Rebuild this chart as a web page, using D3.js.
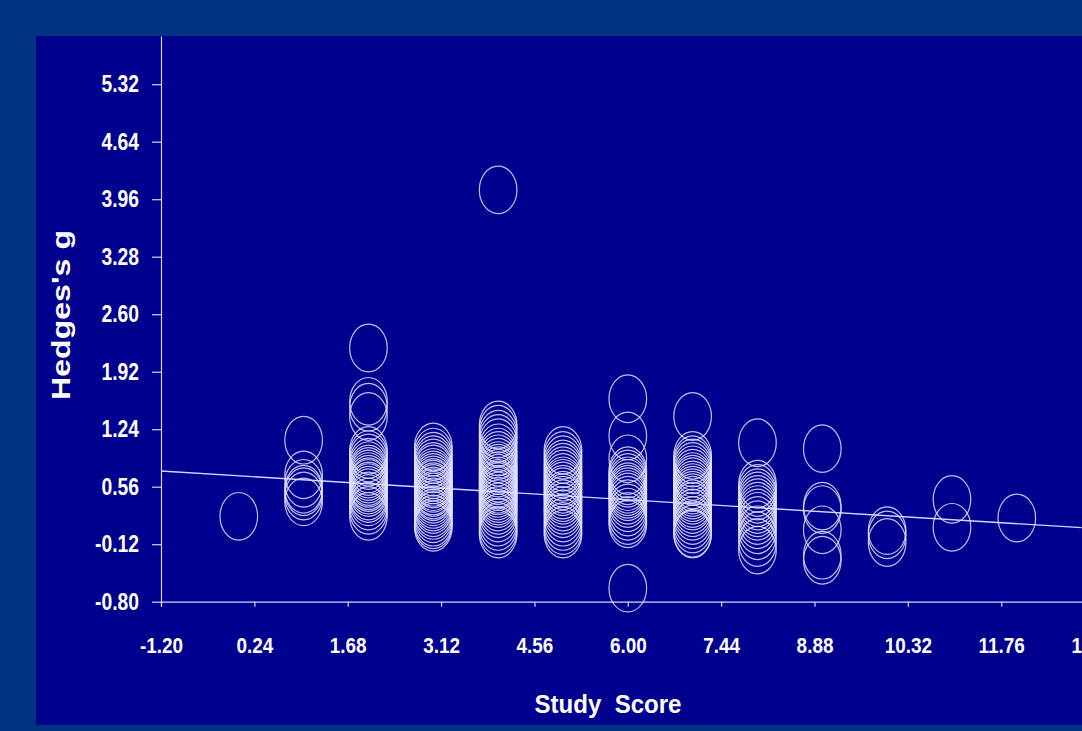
<!DOCTYPE html>
<html>
    <head>
        <meta charset="utf-8">
        <script src="https://cdn.jsdelivr.net/npm/d3@7"></script>
        <style>
            body { margin: 0; background: #003380; overflow: hidden; }
            text { font-family: "Liberation Sans", Arial, sans-serif; font-weight: bold; fill: white; }
        </style>
        <script>
            // study score on x, one list of Hedges's g per score
            var studyScores = [0, 1, 2, 3, 4, 5, 6, 7, 8, 9, 10, 11, 12];
            var hedgesG = [
                [0.21],
                [1.11, 0.70, 0.60, 0.53, 0.50, 0.45, 0.38],
                [2.20, 1.57, 1.50, 1.39, 0.99, 0.94, 0.90, 0.85, 0.81, 0.77, 0.74, 0.71, 0.68, 0.65, 0.62, 0.60, 0.57, 0.55, 0.52, 0.49, 0.45, 0.42, 0.38, 0.33, 0.28, 0.21],
                [1.03, 0.97, 0.92, 0.88, 0.84, 0.80, 0.77, 0.73, 0.70, 0.67, 0.64, 0.61, 0.59, 0.56, 0.54, 0.51, 0.49, 0.46, 0.44, 0.41, 0.38, 0.35, 0.32, 0.29, 0.25, 0.22, 0.18, 0.14, 0.11, 0.08],
                [4.07, 1.29, 1.24, 1.18, 1.13, 1.08, 1.02, 0.97, 0.93, 0.89, 0.85, 0.81, 0.78, 0.75, 0.72, 0.69, 0.66, 0.63, 0.60, 0.58, 0.56, 0.53, 0.51, 0.48, 0.45, 0.42, 0.39, 0.36, 0.32, 0.28, 0.24, 0.19, 0.14, 0.09, 0.04, 0.00],
                [0.99, 0.93, 0.88, 0.83, 0.79, 0.75, 0.71, 0.67, 0.63, 0.60, 0.57, 0.53, 0.50, 0.46, 0.43, 0.40, 0.36, 0.32, 0.28, 0.24, 0.19, 0.14, 0.09, 0.04, 0.00],
                [1.60, 1.16, 0.89, 0.75, 0.71, 0.67, 0.63, 0.60, 0.56, 0.53, 0.50, 0.47, 0.44, 0.40, 0.36, 0.31, 0.26, 0.21, 0.16, 0.12, -0.64],
                [1.39, 0.93, 0.88, 0.84, 0.80, 0.76, 0.72, 0.68, 0.65, 0.62, 0.58, 0.55, 0.52, 0.49, 0.46, 0.43, 0.40, 0.36, 0.33, 0.29, 0.25, 0.21, 0.16, 0.11, 0.06, 0.01, 0.00],
                [1.08, 0.59, 0.54, 0.49, 0.45, 0.41, 0.37, 0.33, 0.29, 0.25, 0.21, 0.16, 0.11, 0.05, -0.02, -0.10, -0.19],
                [1.01, 0.33, 0.29, 0.05, -0.25, -0.31],
                [0.04, -0.01, -0.10],
                [0.41, 0.08],
                [0.19]
            ];
            var xTicks = [-1.20, 0.24, 1.68, 3.12, 4.56, 6.00, 7.44, 8.88, 10.32, 11.76, 13.20];
            var yTicks = [-0.80, -0.12, 0.56, 1.24, 1.92, 2.60, 3.28, 3.96, 4.64, 5.32];
            var fitIntercept = 0.689;
            var fitSlope = -0.0472;

            function makeSVG() {
                var svg = d3.select("#fig");
                var width = +svg.attr("width");
                var lineCol = "#d4d4ff";
                var fmt = d => d.toFixed(2);     // plain hyphen for negatives, like the original

                // navy plot panel
                svg.append("rect")
                   .attr("x", 36).attr("y", 36)
                   .attr("width", width - 36).attr("height", 689)
                   .attr("fill", "#00008e");

                var scX = d3.scaleLinear().domain([-1.2, 13.2]).range([161, 1094.6]);
                var scY = d3.scaleLinear().domain([-0.8, 5.89]).range([601.7, 36]);

                var pts = [];
                studyScores.forEach(function(s, i) {
                    hedgesG[i].forEach(function(g) { pts.push([s, g]); });
                });

                // axes
                var ax = svg.append("g")
                   .attr("transform", "translate(0," + scY(-0.8) + ")")
                   .call(d3.axisBottom(scX).tickValues(xTicks).tickFormat(fmt)
                           .tickSize(5).tickPadding(31));
                ax.selectAll("text").attr("font-size", "22px").attr("transform", "scale(0.86,1)");

                var ay = svg.append("g")
                   .attr("transform", "translate(" + scX(-1.2) + ",0)")
                   .call(d3.axisLeft(scY).tickValues(yTicks).tickFormat(fmt)
                           .tickSize(9).tickPadding(13).tickSizeOuter(0));
                ay.selectAll("text").attr("font-size", "23px").attr("transform", "scale(0.84,1)")
                  .attr("x", -22 / 0.84);

                svg.selectAll(".domain, .tick line").attr("stroke", lineCol).attr("stroke-width", 1.2);
                svg.selectAll(".tick text").attr("fill", "white");
                svg.selectAll("g").attr("font-family", null);

                // regression line
                var xr = scX.domain();
                var lineMkr = d3.line().x(d => scX(d)).y(d => scY(fitIntercept + fitSlope * d));
                svg.append("path")
                   .attr("d", lineMkr([xr[0], 13.0]))
                   .attr("stroke", lineCol)
                   .attr("stroke-width", 1.3)
                   .attr("fill", "none");

                // the studies, drawn as stretched open circles
                svg.append("g")
                   .selectAll("ellipse").data(pts)
                   .enter()
                   .append("ellipse")
                   .attr("cx", d => scX(d[0]))
                   .attr("cy", d => scY(d[1]))
                   .attr("rx", 18.8)
                   .attr("ry", 23.8)
                   .attr("fill", "none")
                   .attr("stroke", "#e2e2ff")
                   .attr("stroke-opacity", 0.85)
                   .attr("stroke-width", 1.2);

                // titles
                svg.append("text")
                   .attr("x", 608).attr("y", 713)
                   .attr("text-anchor", "middle")
                   .attr("font-size", "26px")
                   .attr("textLength", 147)
                   .attr("lengthAdjust", "spacingAndGlyphs")
                   .style("white-space", "pre")
                   .text("Study  Score");

                svg.append("text")
                   .attr("transform", "translate(70,315) rotate(-90)")
                   .attr("text-anchor", "middle")
                   .attr("font-size", "26px")
                   .attr("textLength", 170)
                   .attr("lengthAdjust", "spacingAndGlyphs")
                   .text("Hedges's g");
            }
        </script>
    </head>
    <body onload="makeSVG()">

        <svg id="fig" width="1082" height="731"></svg>

    </body>
</html>
